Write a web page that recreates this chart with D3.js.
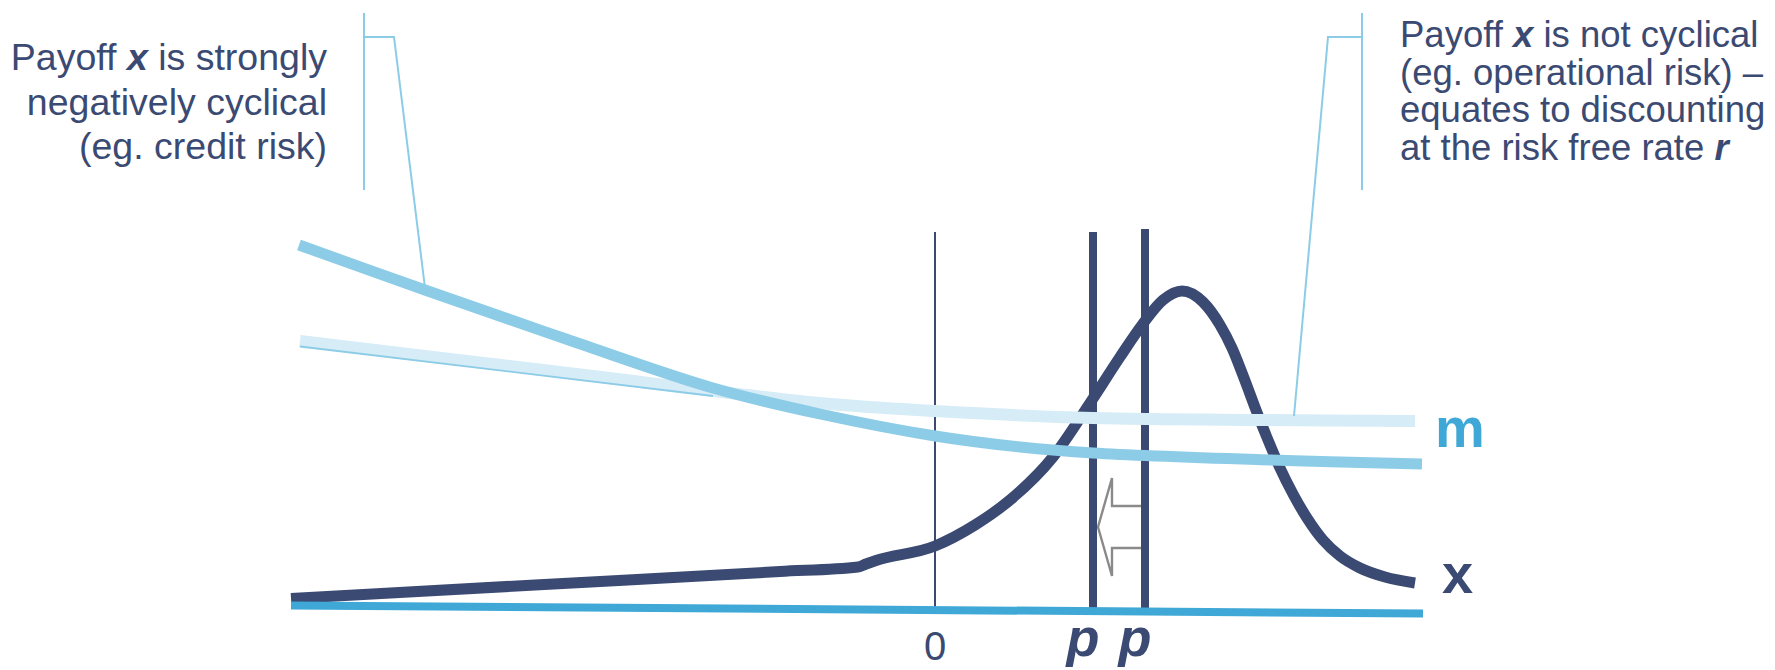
<!DOCTYPE html>
<html><head><meta charset="utf-8">
<script src="https://cdn.jsdelivr.net/npm/d3@7/dist/d3.min.js"></script>
<style>
html,body{margin:0;padding:0;background:#fff;}
svg{display:block;font-family:"Liberation Sans",Arial,Helvetica,sans-serif;}
</style>
</head><body>
<svg id="chart" width="1775" height="670"></svg>
<script>
// ---------- data (payoff axis x, density / discount-factor axis y) ----------
const payoffX = [-6.44, -4.0, -1.55, -0.77, -0.69, -0.59, 0.0, 0.40, 0.75, 1.18, 1.55, 1.85, 2.07, 2.28, 2.47, 2.68, 2.85, 2.97, 3.09, 3.21, 3.33, 3.45, 3.58, 3.72, 3.88, 4.05, 4.25, 4.50, 4.80];
const payoffY = [0.115, 0.25, 0.385, 0.43, 0.46, 0.495, 0.64, 0.85, 1.10, 1.53, 2.07, 2.53, 2.85, 3.10, 3.19, 3.08, 2.85, 2.62, 2.32, 2.00, 1.70, 1.42, 1.16, 0.92, 0.70, 0.54, 0.42, 0.33, 0.27];

const mCyclicalX = [-6.36, -5.10, -3.69, -2.22, -1.15, 0.0, 0.85, 1.58, 3.35, 4.87];
const mCyclicalY = [3.65, 3.20, 2.71, 2.22, 1.96, 1.74, 1.63, 1.57, 1.50, 1.46];

const mRiskFreeX = [-6.35, -3.75, -1.15, 0.0, 1.58, 3.35, 4.80];
const mRiskFreeY = [2.69, 2.38, 2.07, 1.99, 1.92, 1.90, 1.89];
const mRiskFreeEdgeX = [-6.35, -2.22];
const mRiskFreeEdgeY = [2.635, 2.14];

const axisX = [-6.44, 4.88];
const axisY = [0.045, -0.035];

const zeroX = 0;
const zeroRange = [0.0, 3.78];

const priceX = [1.58, 2.10];
const priceTop = [3.78, 3.81];
const priceBottom = [-0.01, 0.02];
const priceLabels = ["p", "p"];

// arrow from the right price line to the left one
const arrowFromX = 2.11, arrowToX = 1.63, arrowY = 0.83;

// bracket leaders (data coordinates)
const leftSpineX = -5.71, leftSpineY = [5.97, 4.20];
const leftLeader = [[-5.71, 5.73], [-5.41, 5.73], [-5.10, 3.22]];
const rightSpineX = 4.27, rightSpineY = [5.97, 4.20];
const rightLeader = [[4.27, 5.73], [3.93, 5.73], [3.59, 1.94]];

const leftNote = [
  [["Payoff ", false], ["x", true], [" is strongly", false]],
  [["negatively cyclical", false]],
  [["(eg. credit risk)", false]]
];
const rightNote = [
  [["Payoff ", false], ["x", true], [" is not cyclical", false]],
  [["(eg. operational risk) \u2013", false]],
  [["equates to discounting", false]],
  [["at the risk free rate ", false], ["r", true]]
];
const zeroLabel = "0";
const mLabel = "m";
const xLabel = "x";

// ---------- drawing ----------
const NAVY = "#3b4a72", LIGHT = "#d6ecf6", MID = "#8dcce7", AXIS = "#3fa8d6", GREY = "#8a8a8a";
const svg = d3.select("#chart");
const xS = d3.scaleLinear().domain([-6.44, 4.88]).range([291, 1423]);
const yS = d3.scaleLinear().domain([0, 6]).range([610, 10]);

const zip = (a, b) => a.map((v, i) => [v, b[i]]);
const smooth = d3.line().x(d => xS(d[0])).y(d => yS(d[1])).curve(d3.curveMonotoneX);
const soft = d3.line().x(d => xS(d[0])).y(d => yS(d[1])).curve(d3.curveCatmullRom.alpha(0.5));
const straight = d3.line().x(d => xS(d[0])).y(d => yS(d[1]));

// zero line
svg.append("line")
  .attr("x1", xS(zeroX)).attr("x2", xS(zeroX))
  .attr("y1", yS(zeroRange[0])).attr("y2", yS(zeroRange[1]))
  .attr("stroke", NAVY).attr("stroke-width", 2);

// arrow (hollow)
const hh = 0.49, sh = 0.21, headLen = 0.14;
const arrowPts = [
  [arrowToX, arrowY],
  [arrowToX + headLen, arrowY + hh],
  [arrowToX + headLen, arrowY + sh],
  [arrowFromX, arrowY + sh],
  [arrowFromX, arrowY - sh],
  [arrowToX + headLen, arrowY - sh],
  [arrowToX + headLen, arrowY - hh]
];
svg.append("path")
  .attr("d", straight(arrowPts) + "Z")
  .attr("fill", "#fff").attr("stroke", GREY).attr("stroke-width", 2.4)
  .attr("stroke-linejoin", "miter");

// price lines
svg.selectAll("line.price").data(priceX).join("line").attr("class", "price")
  .attr("x1", d => xS(d)).attr("x2", d => xS(d))
  .attr("y1", (d, i) => yS(priceTop[i])).attr("y2", (d, i) => yS(priceBottom[i]))
  .attr("stroke", NAVY).attr("stroke-width", 8);

// payoff density x
svg.append("path").attr("d", smooth(zip(payoffX, payoffY)))
  .attr("fill", "none").attr("stroke", NAVY).attr("stroke-width", 11);

// horizontal axis
svg.append("path").attr("d", straight(zip(axisX, axisY)))
  .attr("fill", "none").attr("stroke", AXIS).attr("stroke-width", 8);

// risk-free discount factor m
svg.append("path").attr("d", soft(zip(mRiskFreeX, mRiskFreeY)))
  .attr("fill", "none").attr("stroke", LIGHT).attr("stroke-width", 12);
svg.append("path").attr("d", straight(zip(mRiskFreeEdgeX, mRiskFreeEdgeY)))
  .attr("fill", "none").attr("stroke", MID).attr("stroke-width", 1.8);

// cyclical discount factor m
svg.append("path").attr("d", soft(zip(mCyclicalX, mCyclicalY)))
  .attr("fill", "none").attr("stroke", MID).attr("stroke-width", 11);

// brackets
[[leftSpineX, leftSpineY, leftLeader], [rightSpineX, rightSpineY, rightLeader]].forEach(([sx, sy, lead]) => {
  svg.append("line").attr("x1", xS(sx)).attr("x2", xS(sx))
    .attr("y1", yS(sy[0])).attr("y2", yS(sy[1]))
    .attr("stroke", MID).attr("stroke-width", 2);
  svg.append("path").attr("d", straight(lead))
    .attr("fill", "none").attr("stroke", MID).attr("stroke-width", 2);
});

// notes
function note(lines, x, y0, dy, anchor, fs) {
  const t = svg.append("text").attr("text-anchor", anchor)
    .attr("font-size", fs).attr("fill", NAVY);
  lines.forEach((segs, i) => {
    const ln = t.append("tspan").attr("x", x).attr("y", y0 + i * dy);
    segs.forEach(([s, em]) => {
      const sp = ln.append("tspan").text(s);
      if (em) sp.attr("font-weight", "bold").attr("font-style", "italic");
    });
  });
}
note(leftNote, 327, 70, 44.5, "end", 37.5);
note(rightNote, 1400, 47, 37.5, "start", 36.5);

// axis labels
svg.append("text").attr("x", xS(zeroX)).attr("y", 660).attr("text-anchor", "middle")
  .attr("font-size", 40).attr("fill", NAVY).text(zeroLabel);
svg.selectAll("text.plab").data(priceX).join("text").attr("class", "plab")
  .attr("x", d => xS(d) - 10).attr("y", 656).attr("text-anchor", "middle")
  .attr("font-size", 54).attr("font-weight", "bold").attr("font-style", "italic")
  .attr("fill", NAVY).text((d, i) => priceLabels[i]);

// series labels
svg.append("text").attr("x", 1435).attr("y", 447).attr("font-size", 56)
  .attr("font-weight", "bold").attr("fill", AXIS).text(mLabel);
svg.append("text").attr("x", 1442).attr("y", 593).attr("font-size", 56)
  .attr("font-weight", "bold").attr("fill", NAVY).text(xLabel);
</script>
</body></html>
